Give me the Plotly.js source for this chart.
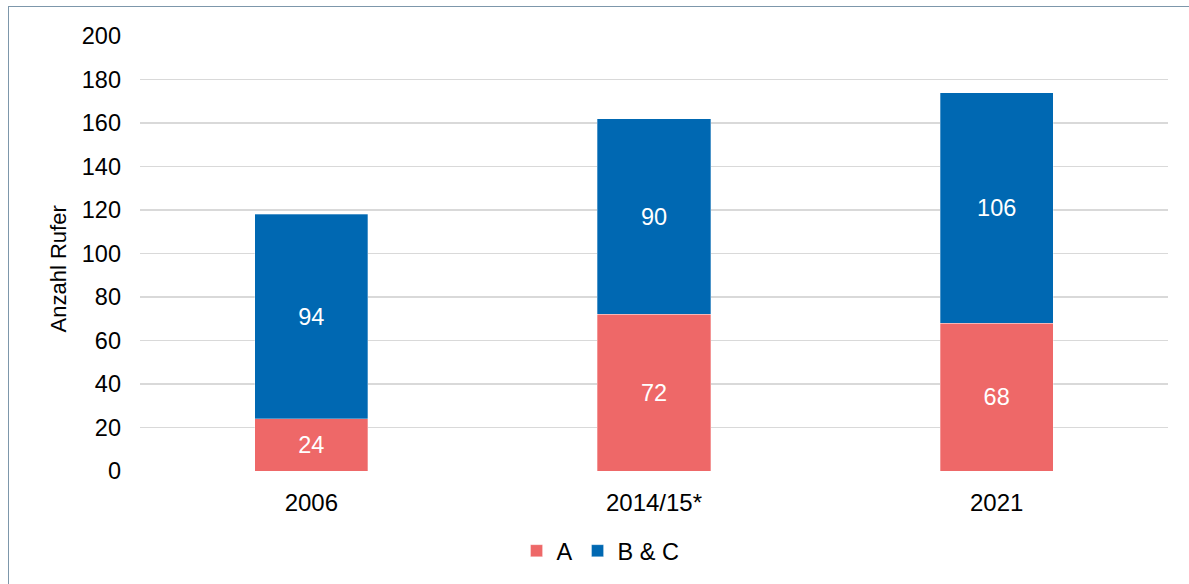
<!DOCTYPE html>
<html>
<head>
<meta charset="utf-8">
<script src="https://cdn.plot.ly/plotly-3.0.1.min.js"></script>
<style>
html,body{margin:0;padding:0;background:#fff;}
#wrap{position:relative;width:1189px;height:584px;overflow:hidden;}
#chart{position:absolute;left:0;top:0;width:1189px;height:584px;}
#frame{position:absolute;left:8px;top:6px;width:1300px;height:700px;border-left:1px solid #7d97ab;border-top:1px solid #7d97ab;pointer-events:none;}
</style>
</head>
<body>
<div id="wrap"><div id="chart"></div><div id="frame"></div></div>
<script>
const categories = ["2006", "2014/15*", "2021"];
const seriesA = [24, 72, 68];
const seriesBC = [94, 90, 106];
const seriesNames = ["A", "B & C"];
const yTickVals = [0, 20, 40, 60, 80, 100, 120, 140, 160, 180, 200];
const yTitle = "Anzahl Rufer";

const font = "Liberation Sans, Arial, sans-serif";
const traces = [
  {type:"bar", name:seriesNames[0], x:categories, y:seriesA,
   marker:{color:"#EE6868", line:{color:"rgba(255,255,255,0.6)", width:0.5}},
   text:seriesA.map(String), textposition:"inside", insidetextanchor:"middle",
   textfont:{family:font, size:23.5, color:"#ffffff"}, hoverinfo:"none"},
  {type:"bar", name:seriesNames[1], x:categories, y:seriesBC,
   marker:{color:"#0068B2", line:{color:"rgba(255,255,255,0.6)", width:0.5}},
   text:seriesBC.map(String), textposition:"inside", insidetextanchor:"middle",
   textfont:{family:font, size:23.5, color:"#ffffff"}, hoverinfo:"none"}
];
const layout = {
  width:1189, height:584,
  barmode:"stack", bargap:0.67,
  paper_bgcolor:"rgba(0,0,0,0)", plot_bgcolor:"#ffffff",
  margin:{l:140, r:21, t:36, b:112},
  font:{family:font, size:23, color:"#000000"},
  xaxis:{type:"category", showgrid:false, showline:false, zeroline:false, ticks:"",
         tickfont:{family:font, size:24, color:"#000"}, ticklabelstandoff:15},
  yaxis:{range:[0,200], tickvals:yTickVals, showgrid:true, gridcolor:"#d9d9d9", gridwidth:1.5,
         zeroline:false, showline:false, ticks:"", ticklabelstandoff:18,
         tickfont:{family:font, size:23.5, color:"#000"}},
  annotations:[{text:yTitle, textangle:-90, xref:"paper", yref:"paper",
                x:-0.0798, y:0.4656, xanchor:"center", yanchor:"middle", showarrow:false,
                font:{family:font, size:22, color:"#000"}}],
  showlegend:true,
  legend:{orientation:"h", x:0.448, xanchor:"center", y:-0.181, yanchor:"middle",
          font:{family:font, size:23.5, color:"#000"}, itemwidth:30, traceorder:"normal",
          bgcolor:"rgba(0,0,0,0)"}
};
Plotly.newPlot("chart", traces, layout, {displayModeBar:false, staticPlot:true});
</script>
</body>
</html>
